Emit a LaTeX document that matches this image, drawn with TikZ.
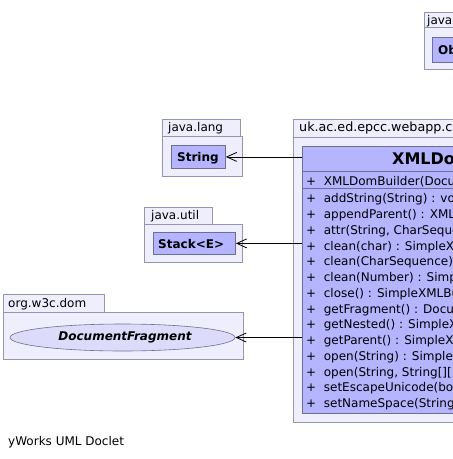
\documentclass[tikz,border=0pt]{standalone}
\usepackage{fontspec}
\setmainfont{DejaVu Sans}
\usetikzlibrary{arrows.meta,shapes.geometric}
\definecolor{pkgfill}{RGB}{238,238,252}
\definecolor{pkgline}{RGB}{150,150,170}
\definecolor{clsfill}{RGB}{180,180,255}
\definecolor{clsline}{RGB}{110,110,150}
\definecolor{elfill}{RGB}{220,220,250}
\tikzset{
  pkg/.style={draw=pkgline,fill=pkgfill,line width=0.8pt},
  cls/.style={draw=clsline,fill=clsfill,line width=0.8pt,inner sep=0pt},
  txt/.style={font=\fontsize{12}{14}\selectfont,anchor=base west,inner sep=0pt},
  btxt/.style={font=\fontsize{12}{14}\selectfont\bfseries,anchor=base west,inner sep=0pt},
  dep/.style={draw=black,line width=0.8pt,-{Straight Barb[length=10pt,width=9pt,line width=0.8pt]}}
}
\begin{document}
\begin{tikzpicture}[x=1pt,y=-1pt]
\useasboundingbox (0,0) rectangle (453,459);
\clip (0,0) rectangle (453,459);
% top-right package
\draw[pkg] (424,12) rectangle (520,27);
\draw[pkg] (424,27) rectangle (540,69);
\node[txt] (pjl) at (427,24) {java.lang};
\node[cls,minimum width=80pt,minimum height=25pt,anchor=north west] (obj) at (432,37) {};
\node[btxt] (objt) at (438,54) {Object};
% java.lang
\draw[pkg] (162,119) rectangle (240,136);
\draw[pkg] (162,136) rectangle (242,176);
\node[txt] (pjl2) at (168,131) {java.lang};
\node[cls,minimum width=54pt,minimum height=23pt,anchor=north west] (str) at (171,145) {};
\node[btxt] (strt) at (177,161) {String};
% java.util
\draw[pkg] (144,207) rectangle (212,224);
\draw[pkg] (144,224) rectangle (242,262);
\node[txt] (pju) at (151,219) {java.util};
\node[cls,minimum width=82pt,minimum height=22pt,anchor=north west] (stk) at (153,232) {};
\node[btxt] (stkt) at (158,248) {Stack<E>};
% org.w3c.dom
\draw[pkg] (3,294) rectangle (104,312);
\draw[pkg] (3,312) rectangle (243,359);
\node[txt] (pod) at (8,307) {org.w3c.dom};
\node[ellipse,draw=clsline,fill=elfill,line width=0.6pt,minimum width=225pt,minimum height=27pt,inner sep=0pt] (df) at (122.5,337.5) {};
\node[font=\fontsize{12}{14}\selectfont\bfseries\itshape,anchor=base,inner sep=0pt] (dft) at (125,340) {DocumentFragment};
% main package
\draw[pkg] (293,119) rectangle (500,137);
\draw[pkg] (293,137) rectangle (640,422);
\node[font=\fontsize{12.7}{14}\selectfont,anchor=base west,inner sep=0pt] (pmain) at (299,131) {uk.ac.ed.epcc.webapp.content};
\node[cls,minimum width=315pt,minimum height=267pt,anchor=north west] (cls) at (302,146) {};
\draw[clsline,line width=0.8pt] (cls.west |- 0,171) -- (cls.east |- 0,171);
\draw[clsline,line width=0.8pt] (cls.west |- 0,188) -- (cls.east |- 0,188);
\node[font=\fontsize{16}{18}\selectfont\bfseries,anchor=base west,inner sep=0pt] (title) at (392,164) {XMLDomBuilder};
\node[txt] (ctor) at (306,185) {+\ \ XMLDomBuilder(DocumentFragment)};
\foreach \i/\m in {0/addString(String) : void,
  1/appendParent() : XMLDomBuilder,
  2/{attr(String, CharSequence) : SimpleXMLBuilder},
  3/clean(char) : SimpleXMLBuilder,
  4/clean(CharSequence) : SimpleXMLBuilder,
  5/clean(Number) : SimpleXMLBuilder,
  6/close() : SimpleXMLBuilder,
  7/getFragment() : DocumentFragment,
  8/getNested() : SimpleXMLBuilder,
  9/getParent() : SimpleXMLBuilder,
  10/open(String) : SimpleXMLBuilder,
  11/{open(String, String[][]) : SimpleXMLBuilder},
  12/setEscapeUnicode(boolean) : void,
  13/setNameSpace(String) : void}
  \node[txt] (m\i) at (306,202.7+15.77*\i) {+\ \ \m};
% dependencies
\draw[dep] (cls.west |- str.east) -- (str.east);
\draw[dep] (cls.west |- stk.east) -- (stk.east);
\draw[dep] (cls.west |- df.east) -- (df.east);
% footer
\node[txt] (foot) at (8,445.5) {yWorks UML Doclet};
\end{tikzpicture}
\end{document}
